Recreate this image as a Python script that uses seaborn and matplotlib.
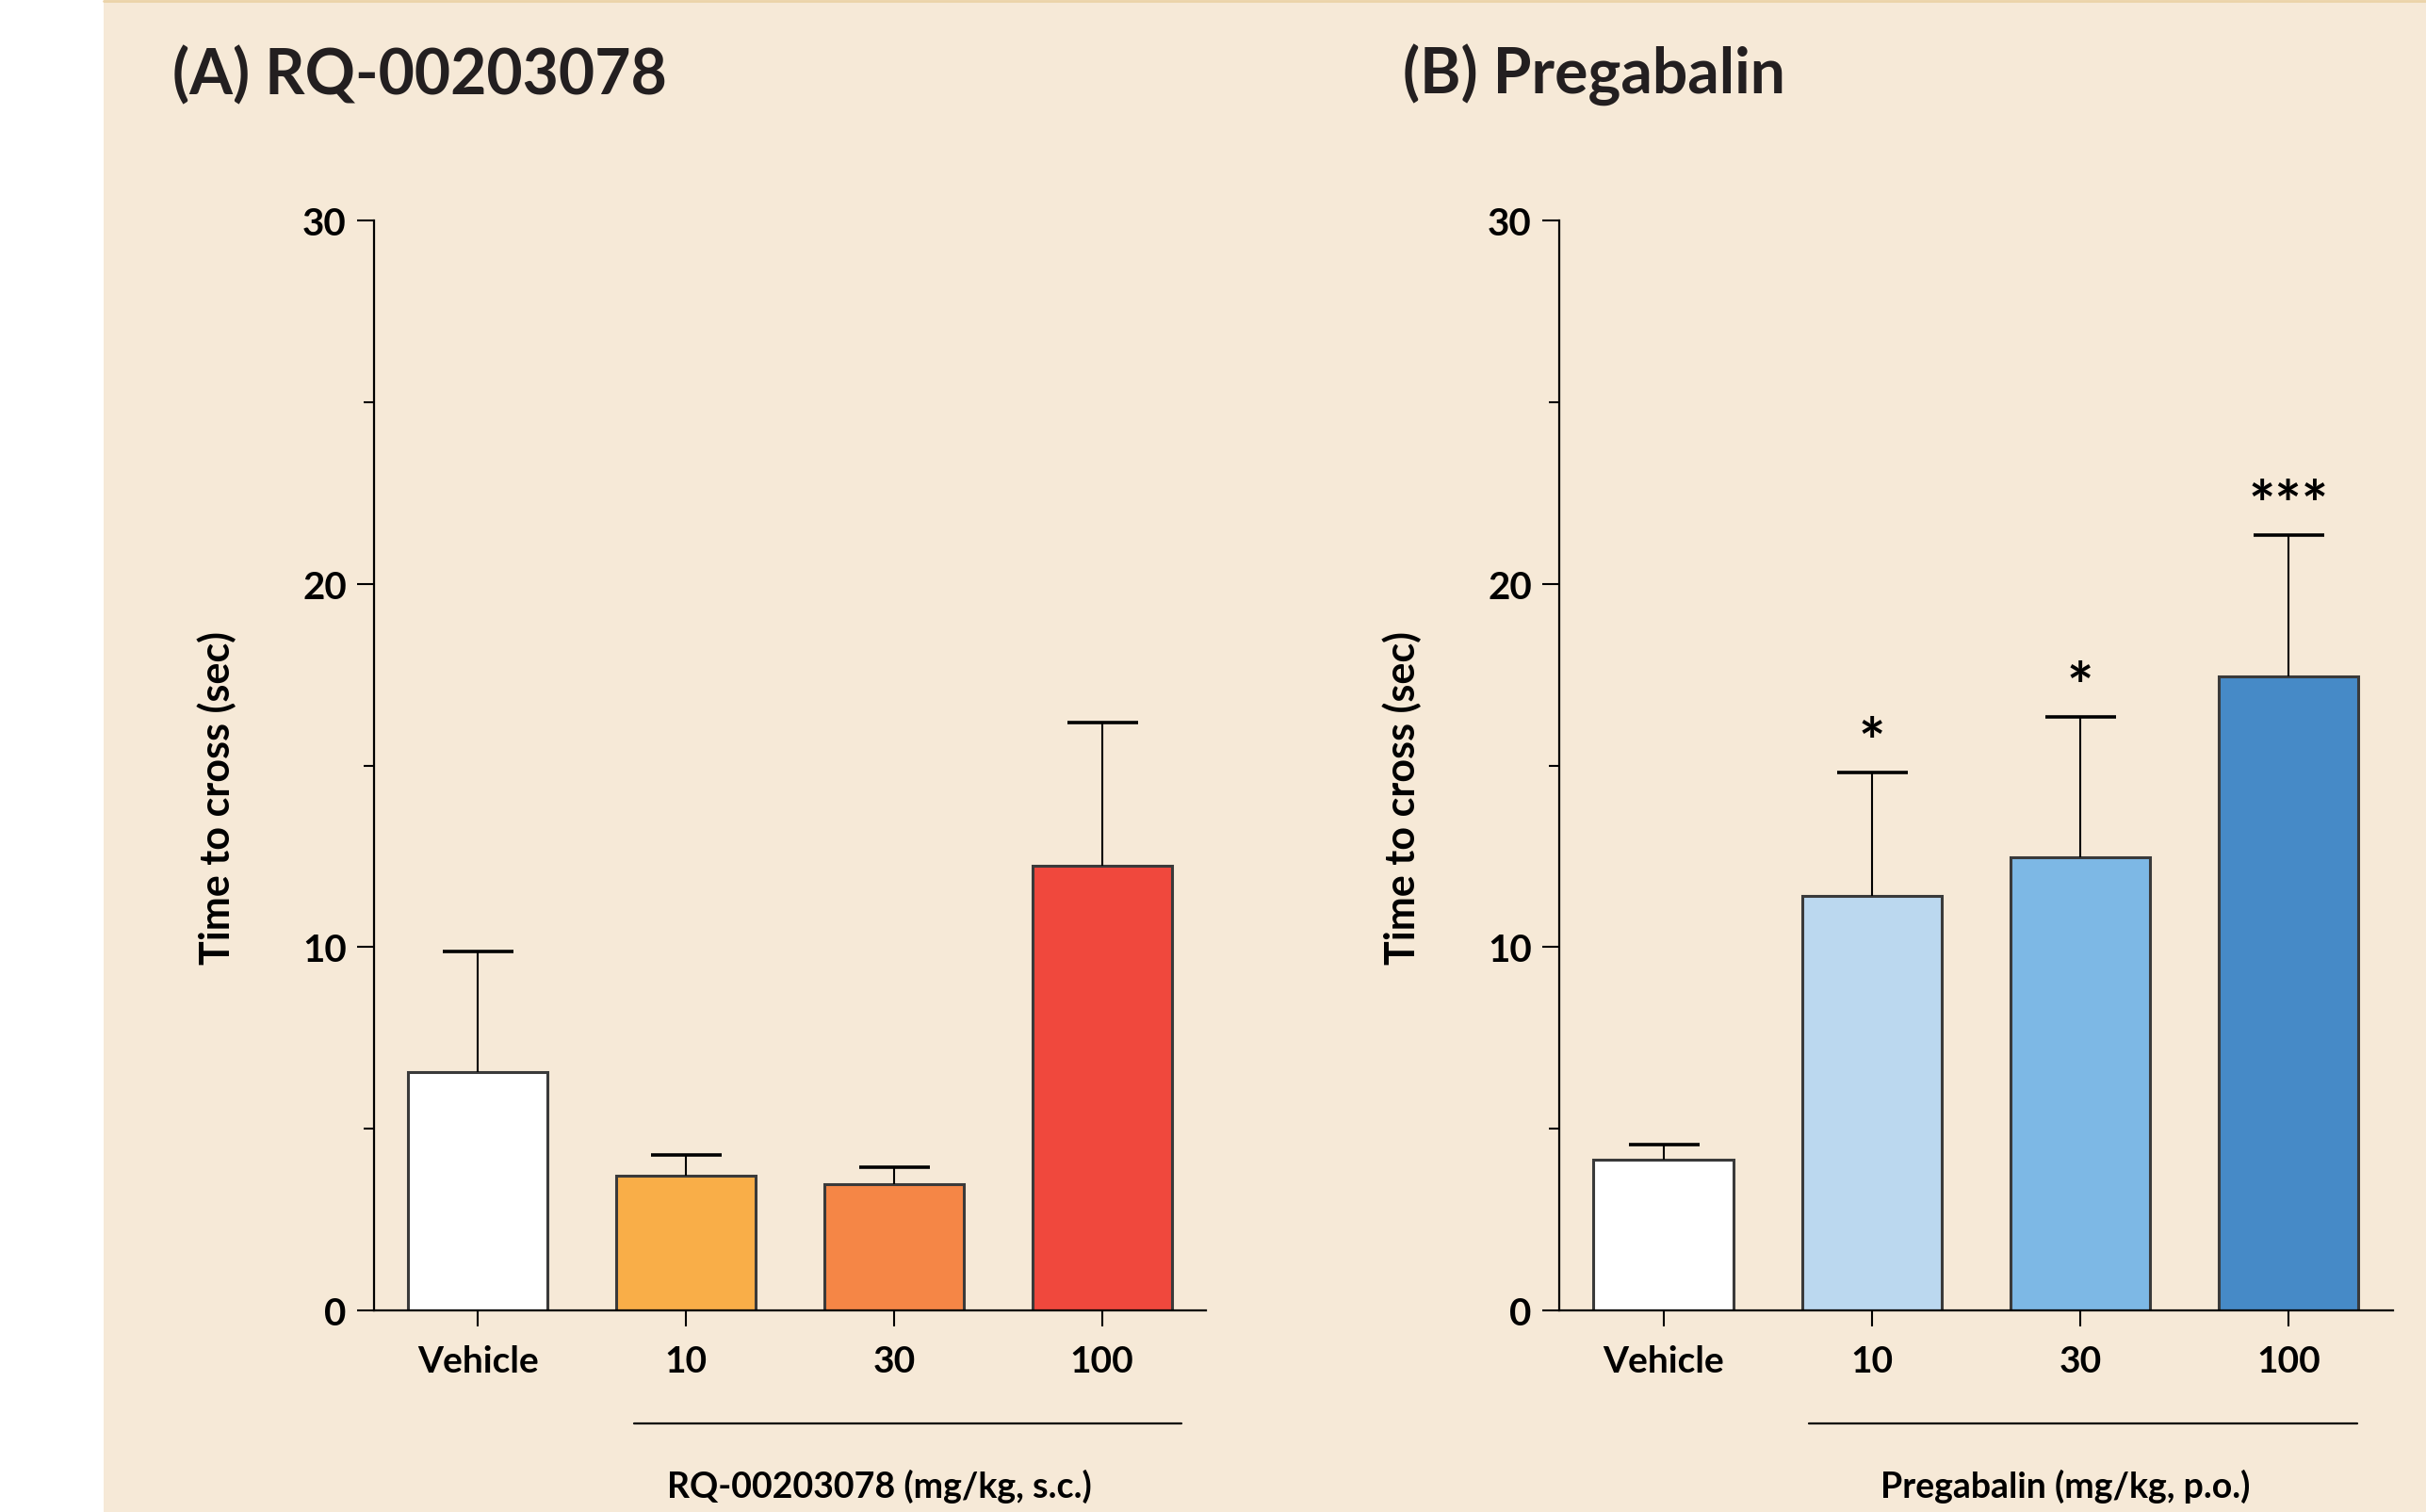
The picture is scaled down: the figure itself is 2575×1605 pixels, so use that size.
import numpy as np
import pandas as pd
import matplotlib
matplotlib.use("Agg")
import matplotlib.pyplot as plt
import seaborn as sns
from matplotlib.patches import Rectangle
from matplotlib.lines import Line2D
from matplotlib.transforms import blended_transform_factory

# ---------------- data ----------------
categories = ["Vehicle", "10", "30", "100"]

rq_means = [6.55, 3.72, 3.47, 12.25]
rq_sem = [3.33, 0.57, 0.46, 3.92]
rq_stars = ["", "", "", ""]
rq_colors = ["#FFFFFF", "#F9AE48", "#F58646", "#F0483D"]

pgb_means = [4.15, 11.40, 12.46, 17.44]
pgb_sem = [0.41, 3.40, 3.87, 3.91]
pgb_stars = ["", "*", "*", "***"]
pgb_colors = ["#FFFFFF", "#BBD8EF", "#7DB8E5", "#468AC7"]

panel_titles = ["(A) RQ-00203078", "(B) Pregabalin"]
group_labels = ["RQ-00203078 (mg/kg, s.c.)", "Pregabalin (mg/kg, p.o.)"]
y_label = "Time to cross (sec)"
y_major = [0, 10, 20, 30]
y_minor = [5, 15, 25]

BG = "#F6E9D7"
TXT = "#231F20"

sns.set_style("ticks")
plt.rcParams["font.family"] = ["Lato", "DejaVu Sans"]

W, H = 2575, 1606
fig = plt.figure(figsize=(W / 100, H / 100), dpi=100, facecolor="white")
fig.patches.append(Rectangle((110 / W, 0), 1 - 110 / W, 1, transform=fig.transFigure,
                             facecolor=BG, edgecolor="none", zorder=-10))
fig.add_artist(Line2D([110 / W, 1], [1 - 1.5 / H] * 2, color="#EBD3A8", lw=2,
                      transform=fig.transFigure))

axA = fig.add_axes([397 / W, 1 - 1392 / H, 883 / W, 1157 / H])
axB = fig.add_axes([1655 / W, 1 - 1392 / H, 884.5 / W, 1157 / H])


def draw(ax, means, sems, colors, stars, group_label, line_span):
    df = pd.DataFrame({"dose": categories, "time": means})
    sns.barplot(data=df, x="dose", y="time", hue="dose", order=categories,
                hue_order=categories, palette=colors, saturation=1, width=0.67,
                edgecolor="#3A3A3A", linewidth=2.2, errorbar=None, legend=False, ax=ax)
    x = np.arange(len(categories))
    eb = ax.errorbar(x, means, yerr=[np.zeros(len(means)), sems], fmt="none", ecolor="black",
                     elinewidth=1.5, capsize=27, capthick=2.6, zorder=1)
    # only the upper caps are visible
    eb[1][0].set_visible(False)
    for xi, m, s, st in zip(x, means, sems, stars):
        if st:
            ax.annotate(st, xy=(xi, m + s), xytext=(0, 7), textcoords="offset points",
                        ha="center", va="baseline", fontsize=48, fontweight="bold", color="black")
    ax.set_facecolor("none")
    ax.set_xlim(-0.5, 3.5)
    ax.set_ylim(0, 30)
    ax.set_yticks(y_major)
    ax.set_yticks(y_minor, minor=True)
    ax.tick_params(axis="y", which="major", length=13, width=1.5, labelsize=29, pad=8,
                   colors="black")
    ax.tick_params(axis="y", which="minor", length=8, width=1.5, colors="black")
    ax.tick_params(axis="x", length=12, width=1.5, labelsize=28, pad=14, colors="black")
    for lbl in ax.get_xticklabels() + ax.get_yticklabels():
        lbl.set_fontweight("bold")
    sns.despine(ax=ax)
    for sp in ["left", "bottom"]:
        ax.spines[sp].set_linewidth(1.6)
        ax.spines[sp].set_color("black")
    ax.set_xlabel("")
    ax.set_ylabel(y_label, fontsize=31, fontweight="bold", color="black", va="center")
    ax.yaxis.set_label_coords(-0.189, 0.471)
    trans = blended_transform_factory(ax.transData, ax.transAxes)
    ax.plot(line_span, [-0.1037, -0.1037], transform=trans, color="black", lw=1.6,
            clip_on=False)
    ax.text(1.93, -0.161, group_label, transform=trans, ha="center", va="center",
            fontsize=27, fontweight="bold", color="black")


draw(axA, rq_means, rq_sem, rq_colors, rq_stars, group_labels[0], [0.75, 3.38])
draw(axB, pgb_means, pgb_sem, pgb_colors, pgb_stars, group_labels[1], [0.70, 3.33])

fig.text(183 / W, 1 - 100 / H, panel_titles[0], fontsize=47.5, fontweight="bold",
         ha="left", va="baseline", color=TXT)
fig.text(1489 / W, 1 - 100 / H, panel_titles[1], fontsize=47.5, fontweight="bold",
         ha="left", va="baseline", color=TXT)

fig.savefig("out.png", dpi=100, facecolor=fig.get_facecolor())
